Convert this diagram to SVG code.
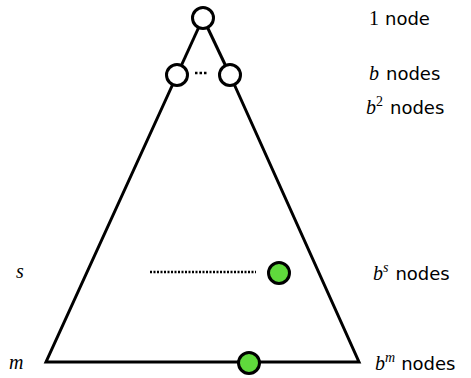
<svg xmlns="http://www.w3.org/2000/svg" width="471" height="378" viewBox="0 0 471 378">
<style>
.e{stroke:#000;stroke-width:3;fill:none}
.n{stroke:#000;stroke-width:3;fill:#fff}
.g{stroke:#000;stroke-width:3;fill:#5fd93c}
.m{font-family:"Liberation Serif",serif;font-style:italic;font-size:20px}
.r{font-family:"Liberation Serif",serif;font-size:20px}
.t{font-family:"DejaVu Sans","Liberation Sans",sans-serif;font-size:18px}
.sup{font-family:"Liberation Serif",serif;font-style:italic;font-size:14px}
.supr{font-family:"Liberation Serif",serif;font-size:14px}
</style>
<rect width="471" height="378" fill="#fff"/>
<g id="connectors">
<line class="e" x1="203" y1="18" x2="177" y2="75"/>
<line class="e" x1="203" y1="18" x2="230" y2="75"/>
<polyline class="e" points="177,75 46,362 359,362 230,75"/>
<line x1="150" y1="272" x2="256" y2="272" stroke="#000" stroke-width="2.5" stroke-dasharray="2,1.5"/>
<line x1="195" y1="73" x2="208" y2="73" stroke="#000" stroke-width="2.5" stroke-dasharray="2.5,2"/>
</g>
<g id="root"><circle class="n" cx="203" cy="18" r="10.5"/></g>
<g id="child1"><circle class="n" cx="177" cy="75" r="10.5"/></g>
<g id="child2"><circle class="n" cx="230" cy="75" r="10.5"/></g>
<g id="nodeS"><circle class="g" cx="279" cy="273" r="10.5"/></g>
<g id="nodeM"><circle class="g" cx="249" cy="363" r="10.5"/></g>
<g id="labels">
<text x="369" y="25" class="t"><tspan class="r">1</tspan><tspan dx="6">node</tspan></text>
<text x="369" y="80" class="t"><tspan class="m">b</tspan><tspan dx="7">nodes</tspan></text>
<text x="366" y="114" class="t"><tspan class="m">b</tspan><tspan class="supr" dy="-8">2</tspan><tspan dy="8" dx="7">nodes</tspan></text>
<text x="16" y="278" class="m">s</text>
<text x="373" y="280" class="t"><tspan class="m">b</tspan><tspan class="sup" dy="-8">s</tspan><tspan dy="8" dx="7">nodes</tspan></text>
<text x="9" y="369" class="m">m</text>
<text x="375" y="370" class="t"><tspan class="m">b</tspan><tspan class="sup" dy="-8">m</tspan><tspan dy="8" dx="6">nodes</tspan></text>
</g>
</svg>
